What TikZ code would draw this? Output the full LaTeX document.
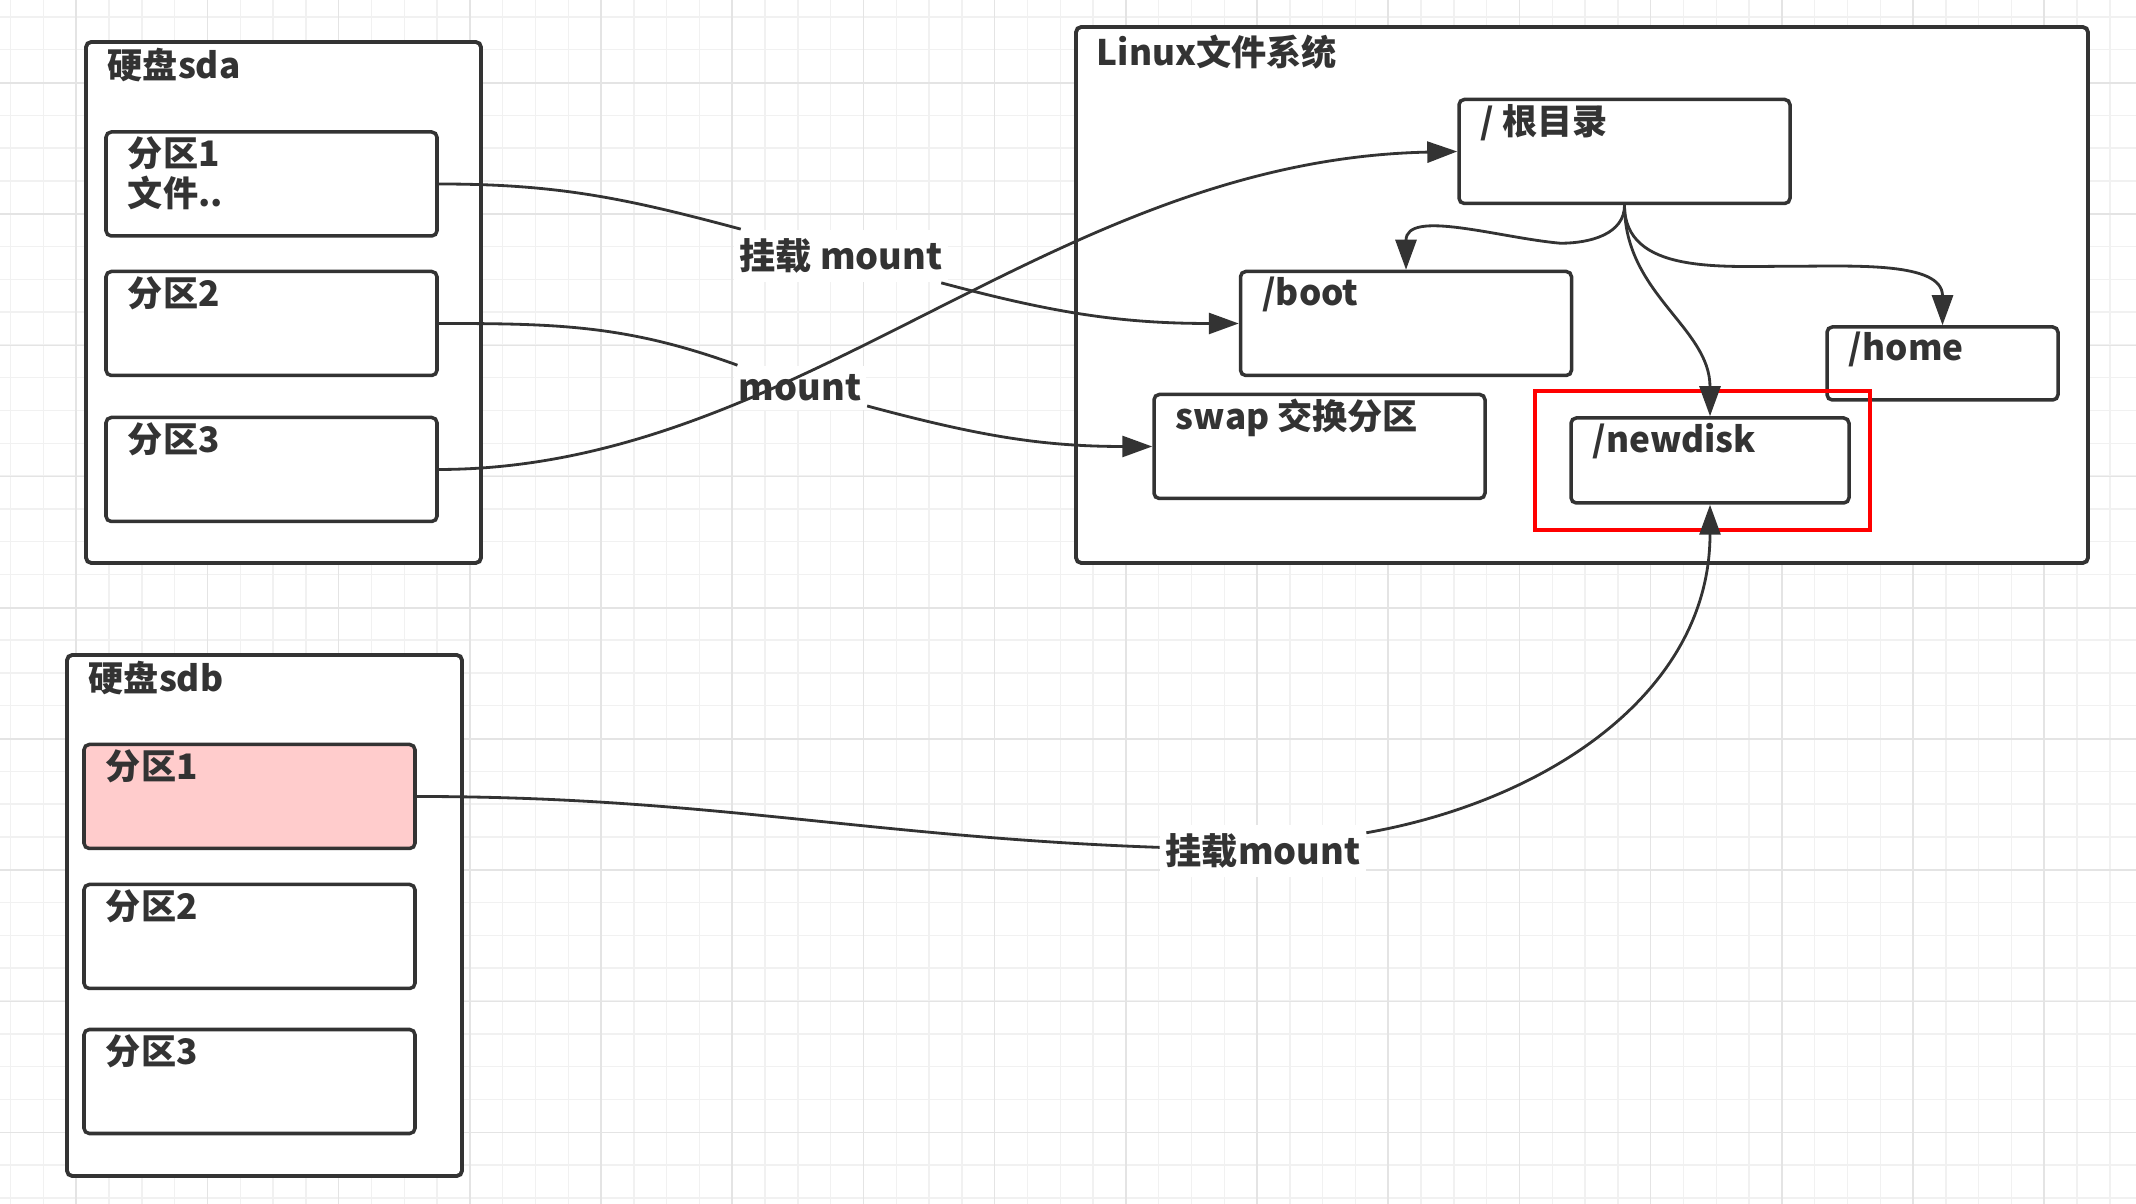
\documentclass[tikz,border=0pt]{standalone}
\usepackage{fontspec}
\setmainfont{Noto Sans CJK SC}
\usetikzlibrary{arrows.meta}
\definecolor{inkgray}{HTML}{333333}
\definecolor{gridlight}{HTML}{F1F1F1}
\definecolor{griddark}{HTML}{E4E4E4}
\definecolor{partpink}{HTML}{FFCCCC}
\tikzset{
  gridminor/.style={draw=gridlight, line width=0.4pt},
  gridmajor/.style={draw=griddark, line width=0.5pt},
  disk/.style={draw=inkgray, fill=white, line width=1.1pt, rounded corners=1.5pt, inner sep=0pt},
  part/.style={draw=inkgray, fill=white, line width=1.0pt, rounded corners=1.5pt, inner sep=0pt, minimum width=3.31cm, minimum height=1.04cm},
  boxtext/.style={anchor=north west, inner sep=0pt, align=left, text=inkgray, font=\fontsize{10}{11.4}\selectfont\bfseries},
  plainlink/.style={draw=inkgray, line width=0.8pt},
  link/.style={plainlink, -{Triangle[length=0.3cm,width=0.21cm]}},
  linklabel/.style={fill=white, inner xsep=1.5pt, inner ysep=2.5pt, text=inkgray, font=\fontsize{10.3}{11.4}\selectfont\bfseries},
  redframe/.style={draw=red, line width=1.2pt},
}

\begin{document}
\begin{tikzpicture}
\useasboundingbox (0,0) rectangle (21.36,12.04);
\fill[white] (0,0) rectangle (21.36,12.04);
\foreach \k in {0,...,64} \draw[gridminor] ({0.106+0.328*\k},0) -- ++(0,12.04);
\foreach \k in {0,...,36} \draw[gridminor] (0,{11.87-0.328*\k}) -- ++(21.36,0);
\foreach \k in {0,...,15} \draw[gridmajor] ({0.762+1.312*\k},0) -- ++(0,12.04);
\foreach \k in {0,...,8} \draw[gridmajor] (0,{11.21-1.312*\k}) -- ++(21.36,0);

\node[disk, minimum width=3.95cm, minimum height=5.21cm] (sda) at (2.835,9.015) {};
\node[part] (sdaone) at (2.715,10.200) {};
\node[part] (sdatwo) at (2.715,8.805) {};
\node[part] (sdathree) at (2.715,7.345) {};
\node[disk, minimum width=3.95cm, minimum height=5.21cm] (sdb) at (2.645,2.885) {};
\node[part, fill=partpink] (sdbone) at (2.495,4.075) {};
\node[part] (sdbtwo) at (2.495,2.675) {};
\node[part] (sdbthree) at (2.495,1.225) {};
\node[disk, minimum width=10.12cm, minimum height=5.36cm] (linux) at (15.820,9.090) {};
\node[part] (root) at (16.245,10.525) {};
\node[part] (boot) at (14.060,8.805) {};
\node[part] (swap) at (13.195,7.575) {};
\node[part, minimum width=2.78cm, minimum height=0.85cm] (newdisk) at (17.100,7.435) {};
\node[part, minimum width=2.31cm, minimum height=0.73cm] (home) at (19.425,8.405) {};

\node[boxtext] (sdatitle) at ([shift={(0.23,-0.07)}]sda.north west) {硬盘sda};
\node[boxtext] (sdaonetext) at ([shift={(0.23,-0.06)}]sdaone.north west) {分区1\\文件..};
\node[boxtext] (sdatwotext) at ([shift={(0.23,-0.06)}]sdatwo.north west) {分区2};
\node[boxtext] (sdathreetext) at ([shift={(0.23,-0.06)}]sdathree.north west) {分区3};
\node[boxtext] (sdbtitle) at ([shift={(0.23,-0.07)}]sdb.north west) {硬盘sdb};
\node[boxtext] (sdbonetext) at ([shift={(0.23,-0.06)}]sdbone.north west) {分区1};
\node[boxtext] (sdbtwotext) at ([shift={(0.23,-0.06)}]sdbtwo.north west) {分区2};
\node[boxtext] (sdbthreetext) at ([shift={(0.23,-0.06)}]sdbthree.north west) {分区3};
\node[boxtext] (linuxtitle) at ([shift={(0.22,-0.09)}]linux.north west) {Linux文件系统};
\node[boxtext] (roottext) at ([shift={(0.23,-0.06)}]root.north west) {/ 根目录};
\node[boxtext] (boottext) at ([shift={(0.23,-0.06)}]boot.north west) {/boot};
\node[boxtext] (swaptext) at ([shift={(0.23,-0.06)}]swap.north west) {swap 交换分区};
\node[boxtext] (newdisktext) at ([shift={(0.23,-0.06)}]newdisk.north west) {/newdisk};
\node[boxtext] (hometext) at ([shift={(0.23,-0.06)}]home.north west) {/home};

\draw[redframe] (15.35,6.74) rectangle (18.70,8.13);

\node[linklabel] (mountone) at (8.41,9.48) {挂载 mount};
\node[linklabel] (mounttwo) at (8.00,8.16) {mount};
\node[linklabel] (mountsdb) at (12.63,3.53) {挂载mount};

\draw[plainlink] (sdaone.east) to[out=0,in=165] (mountone);
\draw[link] (mountone) to[out=-15,in=180] (boot.west);
\draw[plainlink] (sdatwo.east) to[out=0,in=160] (mounttwo);
\draw[link] (mounttwo) to[out=-15,in=180] (swap.west);
\draw[link] (sdathree.east) .. controls (8.00,7.35) and (10.50,10.44) .. (root.west);
\draw[link] (root.south) to[out=-90,in=0] ++(-0.64,-0.38) to[out=175,in=90] (boot.north);
\draw[link] (root.south) to[out=-90,in=90] (newdisk.north);
\draw[link] (root.south) to[out=-90,in=180] ++(1.66,-0.61) to[out=0,in=90] (home.north);
\draw[plainlink] (sdbone.east) to[out=0,in=178] (mountsdb);
\draw[link] (mountsdb) to[out=10,in=-90] (newdisk.south);
\end{tikzpicture}
\end{document}
